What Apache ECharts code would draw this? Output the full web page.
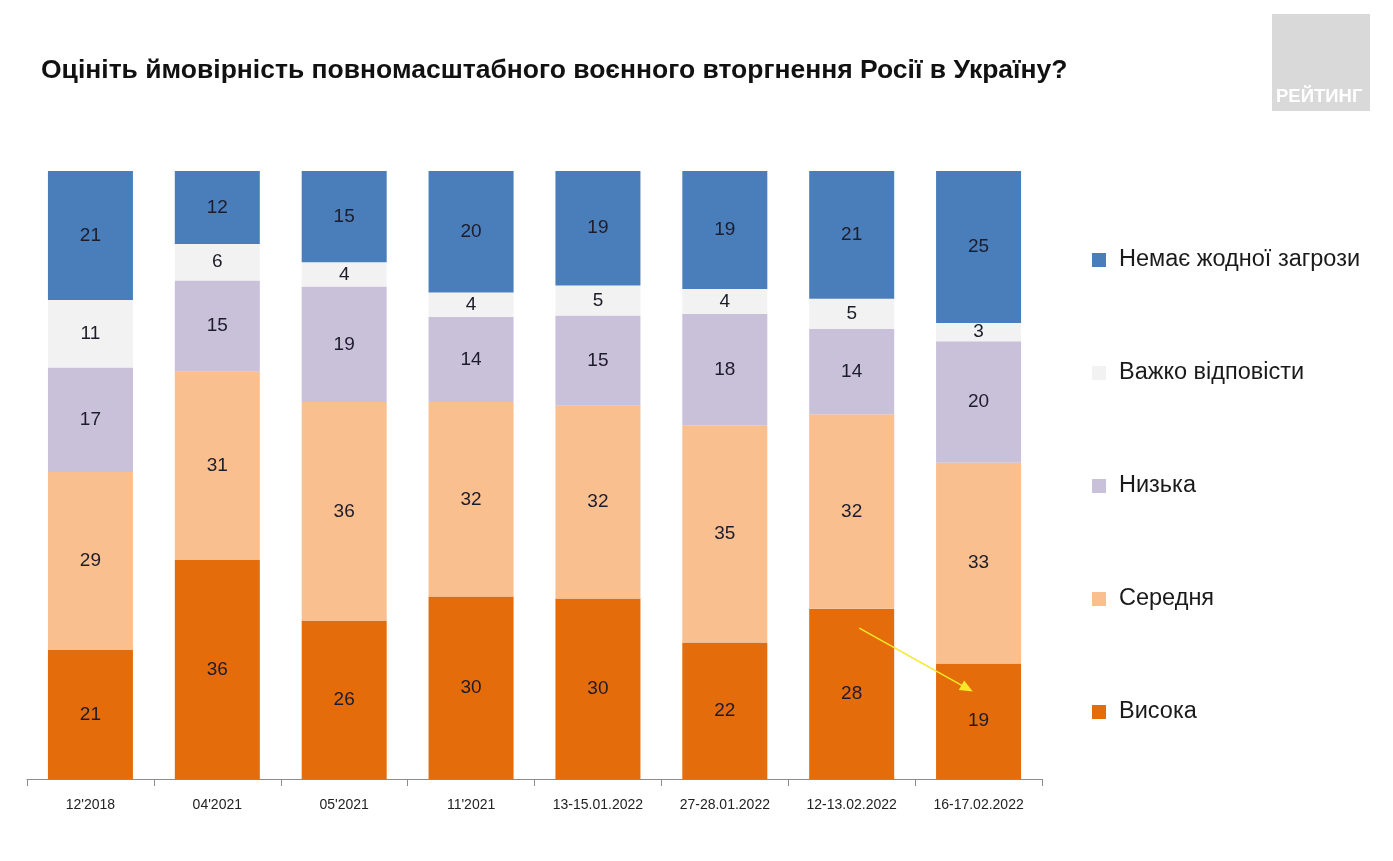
<!DOCTYPE html>
<html><head><meta charset="utf-8">
<script src="https://cdn.jsdelivr.net/npm/echarts@6/dist/echarts.min.js"></script>
<style>html,body{margin:0;padding:0;background:#fff}#c{width:1393px;height:861px}</style>
</head><body><div id="c"></div>
<script>
const categories = ['12\'2018','04\'2021','05\'2021','11\'2021','13-15.01.2022','27-28.01.2022','12-13.02.2022','16-17.02.2022'];
const seriesNames = ['Висока','Середня','Низька','Важко відповісти','Немає жодної загрози'];
const vysoka   = [21,36,26,30,30,22,28,19];
const serednia = [29,31,36,32,32,35,32,33];
const nyzka    = [17,15,19,14,15,18,14,20];
const vazhko   = [11,6,4,4,5,4,5,3];
const nemaie   = [21,12,15,20,19,19,21,25];
const colors = ['#e46c0a','#f9bf8f','#c9c0da','#f2f2f2','#4a7ebb'];
// annotation arrow (x in category units, 0..8; y in percent)
const arrowFrom = [6.56, 24.8];
const arrowTo = [7.41, 14.9];

const FONT = 'Liberation Sans, Arial, sans-serif';
const all = [vysoka, serednia, nyzka, vazhko, nemaie];
const totals = categories.map((_, i) => all.reduce((s, a) => s + a[i], 0));

const series = all.map((arr, k) => ({
  name: seriesNames[k],
  type: 'bar',
  stack: 'total',
  barWidth: '67%',
  itemStyle: { color: colors[k] },
  label: {
    show: true, position: 'inside',
    fontFamily: FONT, fontSize: 19, color: '#1c1c2a',
    formatter: p => p.data.raw
  },
  data: arr.map((v, i) => ({ value: v / totals[i] * 100, raw: v }))
}));

series.push({
  type: 'line', xAxisIndex: 1, yAxisIndex: 0,
  data: [arrowFrom, arrowTo],
  symbol: 'none', lineStyle: { opacity: 0 }, silent: true,
  markLine: {
    silent: true, symbol: ['none', 'triangle'], symbolSize: [11, 13],
    lineStyle: { color: '#f3e82a', width: 1.5, type: 'solid' },
    label: { show: false },
    data: [[{ coord: arrowFrom }, { coord: arrowTo }]]
  }
});

const chart = echarts.init(document.getElementById('c'));
chart.setOption({
  backgroundColor: '#ffffff',
  animation: false,
  title: {
    text: 'Оцініть ймовірність повномасштабного воєнного вторгнення Росії в Україну?',
    left: 36, top: 52,
    textStyle: { fontFamily: FONT, fontWeight: 'bold', fontSize: 26.5, color: '#111' }
  },
  legend: {
    orient: 'vertical', left: 1087, top: 241,
    data: seriesNames.slice().reverse(),
    icon: 'rect', itemWidth: 14, itemHeight: 14, itemGap: 85,
    textStyle: { fontFamily: FONT, fontSize: 23.5, color: '#1a1a1a', lineHeight: 28, padding: [0,0,0,8] }
  },
  grid: { left: 27, right: 351, top: 171, bottom: 82 },
  xAxis: [{
    type: 'category', data: categories,
    axisLine: { lineStyle: { color: '#8c8c8c', width: 1 } },
    axisTick: { show: true, length: 7, lineStyle: { color: '#8c8c8c' } },
    axisLabel: { interval: 0, margin: 19, fontFamily: FONT, fontSize: 14, color: '#222' }
  }, {
    type: 'value', min: 0, max: 8, show: false
  }],
  yAxis: { type: 'value', min: 0, max: 100, show: false, splitLine: { show: false } },
  graphic: [
    { type: 'rect', left: 1272, top: 14, shape: { width: 98, height: 97 }, style: { fill: '#d9d9d9' } },
    { type: 'text', left: 1276, top: 87, style: { text: 'РЕЙТИНГ', fill: '#ffffff', font: 'bold 18.5px Liberation Sans, Arial, sans-serif' } }
  ],
  series: series
});
</script>
</body></html>
